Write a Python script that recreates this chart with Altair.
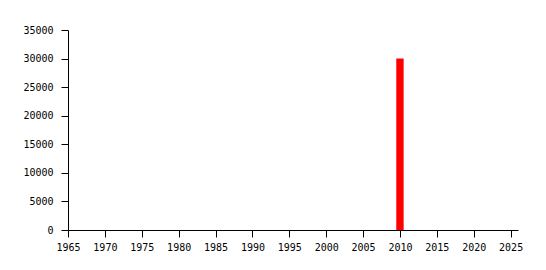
import altair as alt
import pandas as pd

years = [2010]
values = [30000]
x_ticks = list(range(1965, 2030, 5))
y_ticks = list(range(0, 35001, 5000))

df = pd.DataFrame({"year": years, "value": values})

font = "DejaVu Sans Mono"

chart = alt.Chart(df).transform_calculate(
    x0="datum.year - 0.5", x1="datum.year + 0.5"
).mark_bar(color="#ff0000").encode(
    x=alt.X("x0:Q", scale=alt.Scale(domain=[1965, 2026], nice=False, zero=False),
            axis=alt.Axis(values=x_ticks, format="d", title=None, grid=False,
                          labelFont=font, labelFontSize=10, labelColor="black",
                          domainColor="black", tickColor="black", tickSize=7,
                          labelPadding=5, labelFlush=False)),
    x2="x1:Q",
    y=alt.Y("value:Q", scale=alt.Scale(domain=[0, 35000], nice=False, padding=0),
            axis=alt.Axis(values=y_ticks, format="d", title=None, grid=False,
                          labelFont=font, labelFontSize=10, labelColor="black",
                          domainColor="black", tickColor="black", tickSize=7,
                          labelPadding=8)),
    y2=alt.datum(0),
).properties(
    width=450, height=200,
    autosize=alt.AutoSizeParams(type="none"),
    padding={"left": 68, "top": 30, "right": 28, "bottom": 40},
).configure(background="white").configure_view(stroke=None)

chart.save("out.html", embed_options={"renderer": "svg", "actions": False})
